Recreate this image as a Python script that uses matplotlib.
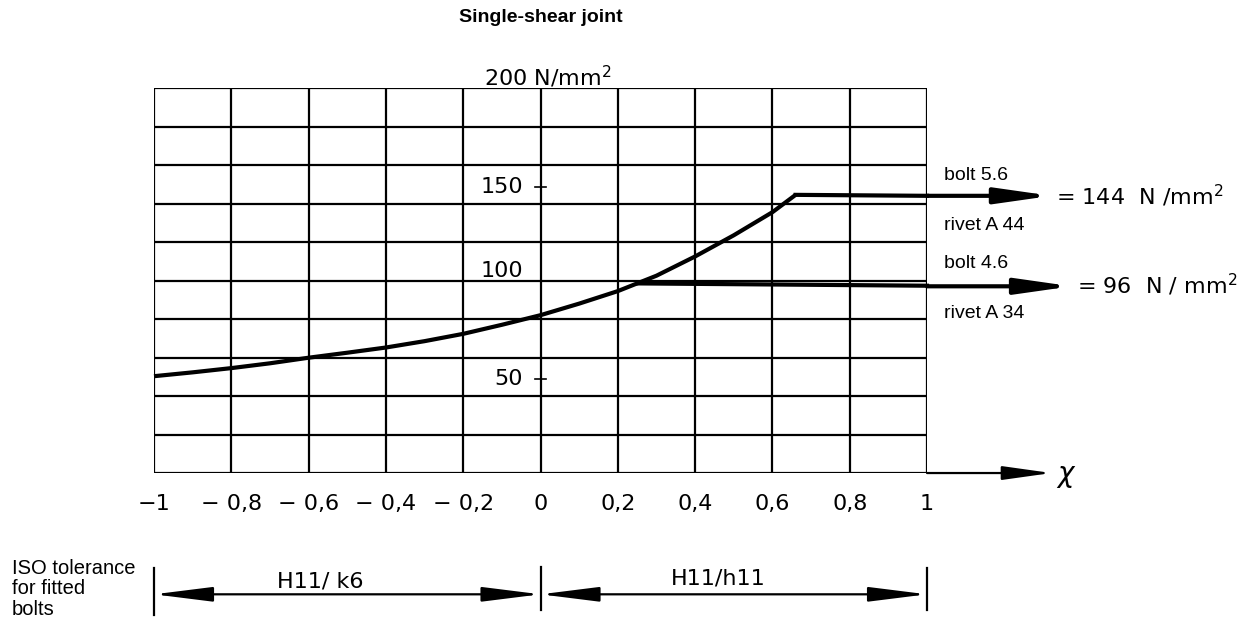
import matplotlib
matplotlib.use("Agg")
import matplotlib.pyplot as plt
import numpy as np

# values (x = ratio, y = N/mm2)
curve_x = [-1.0, -0.9, -0.8, -0.7, -0.6, -0.5, -0.4, -0.3, -0.2, -0.1, 0.0,
           0.1, 0.2, 0.25, 0.3, 0.4, 0.5, 0.6, 0.66]
curve_y = [50.3, 52.3, 54.5, 57.0, 59.9, 62.5, 65.2, 68.5, 72.3, 77.0, 82.0,
           88.0, 94.5, 98.5, 102.5, 112.5, 123.5, 135.5, 144.5]

upper_level = 144      # bolt 5.6 / rivet A 44
lower_level = 97       # bolt 4.6 / rivet A 34
branch_x = 0.25
knee_x = 0.66

x_ticks = [-1, -0.8, -0.6, -0.4, -0.2, 0, 0.2, 0.4, 0.6, 0.8, 1]
x_labels = ["\u22121", "\u2212 0,8", "\u2212 0,6", "\u2212 0,4", "\u2212 0,2",
            "0", "0,2", "0,4", "0,6", "0,8", "1"]
y_labels = ["150", "100", "50"]
y_label_pos = [148.5, 105, 49]

NUM_FONT = "DejaVu Sans"
TXT_FONT = "Liberation Sans"

fig = plt.figure(figsize=(12.38, 6.22), dpi=100)
ax = fig.add_axes([0.1244, 0.2395, 0.6244, 0.619])
ax.set_xlim(-1, 1)
ax.set_ylim(0, 200)
for s in ax.spines.values():
    s.set_visible(False)

# grid of the chart
ax.vlines(np.arange(-1, 1.01, 0.2), 0, 200, color="black", lw=1.6)
ax.hlines(np.arange(0, 201, 20), -1, 1, color="black", lw=1.6)

ax.set_xticks(x_ticks, x_labels, fontfamily=NUM_FONT, fontsize=16)
ax.tick_params(axis="x", length=0, pad=15)
ax.set_yticks([])

for lab, yp in zip(y_labels, y_label_pos):
    ax.text(-0.045, yp, lab, ha="right", va="center", fontfamily=NUM_FONT, fontsize=16)
for yp in [148.5, 49]:
    ax.plot([-0.015, 0.015], [yp, yp], color="black", lw=1.2)

ax.text(-0.145, 206, "200 N/mm$^{2}$", ha="left", va="center",
        fontfamily=NUM_FONT, fontsize=16, clip_on=False)

# strength curve and the two plateaus
lw = 3.0
ax.plot(curve_x, curve_y, color="black", lw=lw, solid_capstyle="butt",
        solid_joinstyle="round", clip_on=False)
ax.plot([knee_x, 1.0], [upper_level + 0.5, upper_level], color="black", lw=lw, clip_on=False)
ax.plot([branch_x, 1.0], [curve_y[curve_x.index(branch_x)], lower_level + 0.3],
        color="black", lw=lw, clip_on=False)


def arrow(x0, x1, y, style, width=lw, hl=3.3, hw=0.47):
    ax.annotate("", xy=(x1, y), xytext=(x0, y), annotation_clip=False,
                arrowprops=dict(arrowstyle=f"{style},head_length={hl},head_width={hw}",
                                mutation_scale=10, lw=width, color="black",
                                shrinkA=0, shrinkB=0))


arrow(1.0, 1.322, upper_level, "-|>")
arrow(1.0, 1.374, lower_level, "-|>")
arrow(1.0, 1.322, 0, "-|>", width=1.6, hl=3.0, hw=0.42)
ax.text(1.335, -1.5, r"$\chi$", ha="left", va="center", fontsize=20, clip_on=False)

ax.text(1.335, upper_level, "= 144  N /mm$^{2}$", ha="left", va="center",
        fontfamily=NUM_FONT, fontsize=16, clip_on=False)
ax.text(1.387, lower_level + 0.7, "= 96  N / mm$^{2}$", ha="left", va="center",
        fontfamily=NUM_FONT, fontsize=16, clip_on=False)

for lab, yp in [("bolt 5.6", 154.8), ("rivet A 44", 128.8),
                ("bolt 4.6", 109), ("rivet A 34", 83)]:
    ax.text(1.043, yp, lab, ha="left", va="center", fontfamily=TXT_FONT,
            fontsize=14, clip_on=False)

# ISO tolerance dimension lines
dim_y = -63
arrow(-1, 0, dim_y, "<|-|>", width=1.6, hl=3.6, hw=0.45)
arrow(0, 1, dim_y, "<|-|>", width=1.6, hl=3.6, hw=0.45)
for xv, y0, y1 in [(-1, -49.4, -73.8), (0, -48.8, -71.2), (1, -49.4, -71.2)]:
    ax.plot([xv, xv], [y0, y1], color="black", lw=1.6, clip_on=False)
ax.text(-0.57, -56.6, "H11/ k6", ha="center", va="center", fontfamily=NUM_FONT,
        fontsize=16, clip_on=False)
ax.text(0.46, -55, "H11/h11", ha="center", va="center", fontfamily=NUM_FONT,
        fontsize=16, clip_on=False)

fig.text(12 / 1238, 1 - 589 / 622, "ISO tolerance\nfor fitted\nbolts", ha="left",
         va="center", fontfamily=TXT_FONT, fontsize=14.5, linespacing=1.12)
fig.text(541 / 1238, 1 - 18 / 622, "Single-shear joint", ha="center", va="center",
         fontfamily=TXT_FONT, fontsize=14, fontweight="bold")

fig.savefig("out.png", dpi=100)
